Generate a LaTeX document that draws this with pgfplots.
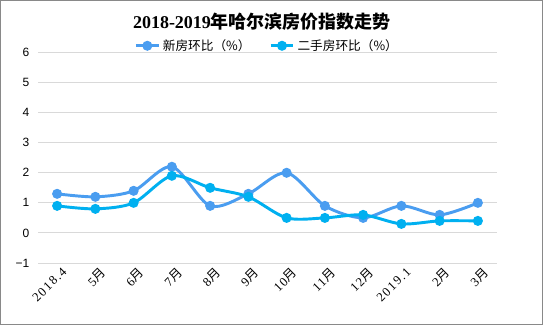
\documentclass[border=0pt]{standalone}
\usepackage{pgfplots}
\pgfplotsset{compat=1.18}
\usepackage{fontspec}
\setmainfont{Liberation Serif}
\newfontfamily\cjk{Noto Sans CJK SC}
\newfontfamily\cjksp[LetterSpace=12]{Noto Sans CJK SC}
\newfontfamily\tickserif[LetterSpace=12]{Liberation Serif}
\newfontfamily\sans{Liberation Sans}
\definecolor{newc}{RGB}{74,157,240}
\definecolor{secc}{RGB}{0,176,240}
\definecolor{gridc}{RGB}{217,217,217}
\definecolor{framec}{RGB}{137,137,137}
\begin{document}
\begin{tikzpicture}
\draw[framec, line width=0.75pt, fill=white] (0.375pt,0.375pt) rectangle (406.875pt,243.375pt);
\useasboundingbox (0pt,0pt) rectangle (407.25pt,243.75pt);
\node[font=\fontsize{13.5}{15}\selectfont] at (196.5pt,227.6pt) {\bfseries 2018-2019{\cjk\bfseries 年哈尔滨房价指数走势}};
\begin{axis}[
  at={(28.5pt,46.5pt)}, anchor=south west,
  scale only axis, width=344.25pt, height=157.9pt,
  xmin=-0.5, xmax=11.5, ymin=-1, ymax=6,
  xtick={0,...,11},
  xticklabels={2018.4,5{\cjksp 月},6{\cjksp 月},7{\cjksp 月},8{\cjksp 月},9{\cjksp 月},10{\cjksp 月},11{\cjksp 月},12{\cjksp 月},2019.1,2{\cjksp 月},3{\cjksp 月}},
  ytick={-1,0,...,6},
  yticklabels={−1,0,1,2,3,4,5,6},
  xticklabel style={rotate=45, anchor=north east, font=\tickserif\fontsize{9.5}{10}\selectfont, xshift=1.5pt, yshift=-3pt, inner sep=1pt},
  yticklabel style={font=\sans\fontsize{9}{10}\selectfont, xshift=-3pt},
  ymajorgrids, major grid style={gridc, line width=0.75pt},
  axis line style={draw=none}, tick style={draw=none},
  clip=false,
  legend style={at={(0.5,1)}, anchor=south, draw=none, fill=none, legend columns=2,
    font=\cjk\fontsize{9.5}{10}\selectfont, yshift=-4pt,
    /tikz/every even column/.append style={column sep=12pt}},
  legend cell align=left,
]
\addplot[newc, line width=2.2pt, smooth, mark=*, mark size=2.6pt, mark options={fill=newc, draw=newc}]
coordinates {(0,1.3)(1,1.2)(2,1.4)(3,2.2)(4,0.9)(5,1.3)(6,2.0)(7,0.9)(8,0.5)(9,0.9)(10,0.6)(11,1.0)};
\addlegendentry{新房环比（\%）}
\addplot[secc, line width=2.2pt, smooth, mark=*, mark size=2.6pt, mark options={fill=secc, draw=secc}]
coordinates {(0,0.9)(1,0.8)(2,1.0)(3,1.9)(4,1.5)(5,1.2)(6,0.5)(7,0.5)(8,0.6)(9,0.3)(10,0.4)(11,0.4)};
\addlegendentry{二手房环比（\%）}
\end{axis}
\end{tikzpicture}
\end{document}
